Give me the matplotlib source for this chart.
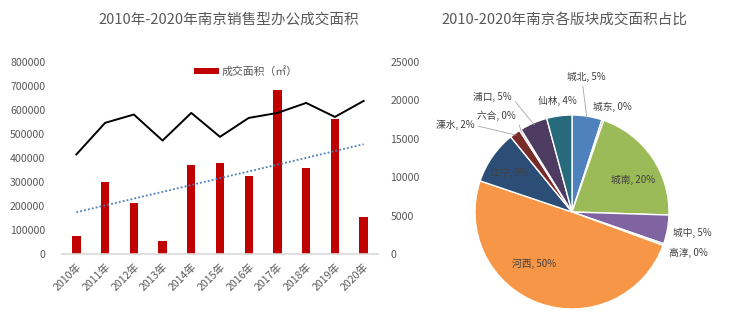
import numpy as np
import matplotlib.pyplot as plt

plt.rcParams['font.family'] = ['Noto Sans CJK SC', 'DejaVu Sans']

# bar chart data
years = ['2010年', '2011年', '2012年', '2013年', '2014年', '2015年',
         '2016年', '2017年', '2018年', '2019年', '2020年']
area = [76000, 299000, 212000, 54000, 371000, 381000,
        327000, 682000, 361000, 562000, 156000]
price = [12980, 17090, 18170, 14790, 18380, 15270,
         17730, 18380, 19680, 17860, 19940]

# pie data
districts = ['城北', '城东', '城南', '城中', '高淳', '河西',
             '江宁', '溧水', '六合', '浦口', '仙林']
shares = [5.0, 0.3, 20.2, 4.8, 0.3, 49.6, 8.9, 1.8, 0.3, 4.6, 4.2]
pie_colors = ['#4F81BD', '#C0504D', '#9BBB59', '#8064A2', '#4BACC6', '#F79646',
              '#2C4D75', '#772C2A', '#5F7530', '#4D3B62', '#276A7C']

W, H = 740, 328
gray = '#595959'


def px(l, t, r, b):
    return [l / W, 1 - b / H, (r - l) / W, (b - t) / H]


fig = plt.figure(figsize=(W / 100, H / 100), dpi=100)

# ---- left: bars + line ----
ax = fig.add_axes(px(62, 62, 378, 254.3))
x = np.arange(len(years))
bars = ax.bar(x, area, width=0.29, color='#C00000', zorder=2)
coef = np.polyfit(x, area, 1)
ax.plot(x, np.polyval(coef, x), ls=(0, (1, 1.2)), color='#4A7EBB', lw=1.3, zorder=3)
ax.set_xlim(-0.5, 10.5)
ax.set_ylim(0, 800000)
ax.set_yticks(range(0, 800001, 100000))
ax.set_xticks(x)
ax.set_xticklabels(years, rotation=45, ha='right', va='top', rotation_mode='anchor')
ax.tick_params(length=0, labelsize=7.6, colors=gray, pad=5)
ax.tick_params(axis='y', pad=12)
for s in ['top', 'left', 'right']:
    ax.spines[s].set_visible(False)
ax.spines['bottom'].set_color('#D9D9D9')
ax.spines['bottom'].set_linewidth(1.2)

ax2 = ax.twinx()
ax2.plot(x, price, color='black', lw=1.4, zorder=4)
ax2.set_ylim(0, 25000)
ax2.set_yticks(range(0, 25001, 5000))
ax2.tick_params(length=0, labelsize=7.6, colors=gray, pad=9)
for s in ['top', 'left', 'right', 'bottom']:
    ax2.spines[s].set_visible(False)

ax.legend([bars], ['成交面积（㎡）'], loc='center left',
          bbox_to_anchor=(189 / W, 1 - 71 / H), bbox_transform=fig.transFigure,
          frameon=False, fontsize=7.8, labelcolor=gray, borderpad=0,
          handlelength=2.3, handleheight=0.5, handletextpad=0.2)

fig.text(229 / W, 1 - 20 / H, '2010年-2020年南京销售型办公成交面积',
         ha='center', va='center', fontsize=10.5, color=gray)

# ---- right: pie ----
ax3 = fig.add_axes(px(475, 115, 669, 309))
wedges, _ = ax3.pie(shares, colors=pie_colors, startangle=90, counterclock=False,
                    radius=1, wedgeprops=dict(edgecolor='white', linewidth=1))
ax3.set_xlim(-1, 1)
ax3.set_ylim(-1, 1)
ax3.set_aspect('equal')

label_shift = [3, -2.4, -7, 0.5, 0, -16.8, 2.5, 17.4, 5.8, 11.4, 0]
label_r = [1.40, 1.16, 0.71, 1.26, 1.27, 0.66, 0.76, 1.50, 1.26, 1.44, 1.15]
# leader lines: label anchor point for the connector
leader = {'城北': (0.4, 0), '溧水': (1, 0.5), '六合': (1, 0.5), '浦口': (1, 0.5)}
total = sum(shares)
for w, name, val, sh, r in zip(wedges, districts, shares, label_shift, label_r):
    mid = (w.theta1 + w.theta2) / 2
    a = np.deg2rad(mid + sh)
    pos = (r * np.cos(a), r * np.sin(a))
    txt = f'{name}, {round(val / total * 100):.0f}%'
    if name in leader:
        m = np.deg2rad(mid)
        ax3.annotate(txt, xy=(0.98 * np.cos(m), 0.98 * np.sin(m)), xytext=pos,
                     ha='center', va='center', fontsize=7, color='#404040',
                     arrowprops=dict(arrowstyle='-', color='#A6A6A6', lw=0.6,
                                     relpos=leader[name], shrinkA=1, shrinkB=0))
    else:
        ax3.text(pos[0], pos[1], txt, ha='center', va='center',
                 fontsize=7, color='#404040')

fig.text(564.5 / W, 1 - 20 / H, '2010-2020年南京各版块成交面积占比',
         ha='center', va='center', fontsize=10.5, color=gray)

plt.savefig('out.png', dpi=100)
